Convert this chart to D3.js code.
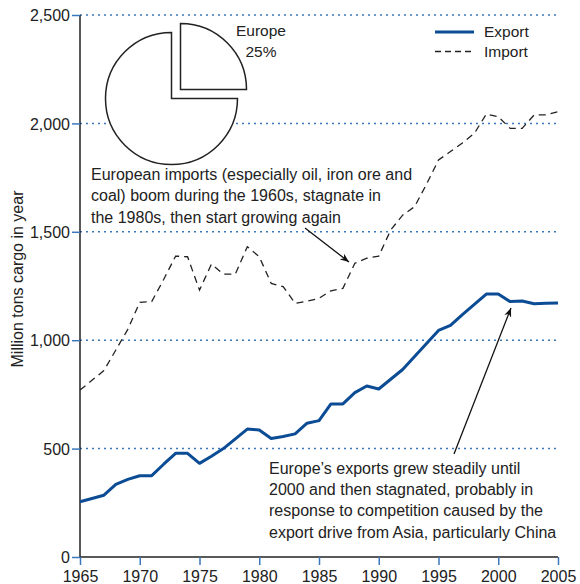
<!DOCTYPE html>
<html>
<head>
<meta charset="utf-8">
<script src="https://cdn.jsdelivr.net/npm/d3@7"></script>
<style>
  body { margin: 0; background: #fff; }
  svg { font-family: "Liberation Sans", Arial, Helvetica, sans-serif; }
</style>
</head>
<body>
<svg id="chart" width="580" height="584"></svg>
<script>
const years = d3.range(1965, 2006);
const exportValues = [255, 270, 285, 335, 358, 375, 375, 428, 478, 478,
  432, 465, 500, 545, 590, 586, 547, 556, 568, 617,
  629, 706, 706, 758, 789, 775, 820, 865, 925, 985,
  1045, 1068, 1118, 1165, 1213, 1213, 1178, 1181, 1168, 1170, 1172];
const importValues = [770, 815, 860, 955, 1050, 1175, 1178, 1280, 1388, 1385,
  1231, 1351, 1305, 1305, 1431, 1385, 1262, 1247, 1170, 1180,
  1193, 1228, 1239, 1355, 1378, 1388, 1508, 1577, 1616, 1720,
  1831, 1870, 1910, 1954, 2043, 2031, 1977, 1977, 2039, 2039, 2054];
const yTicks = [0, 500, 1000, 1500, 2000, 2500];
const xTicks = [1965, 1970, 1975, 1980, 1985, 1990, 1995, 2000, 2005];
const pieShares = [{name: "Europe", value: 25}, {name: "Rest", value: 75}];
const seriesNames = ["Export", "Import"];
const yTitle = "Million tons cargo in year";
const importNote = ["European imports (especially oil, iron ore and",
  "coal) boom during the 1960s, stagnate in",
  "the 1980s, then start growing again"];
const exportNote = ["Europe\u2019s exports grew steadily until",
  "2000 and then stagnated, probably in",
  "response to competition caused by the",
  "export drive from Asia, particularly China"];

const svg = d3.select("#chart");
const blue = "#0b4c95";
const gridBlue = "#3b78bb";
const FS = 16;
const x = d3.scaleLinear().domain([1965, 2005]).range([80, 558]);
const y = d3.scaleLinear().domain([0, 2500]).range([557, 15]);

// defs arrow
svg.append("defs").append("marker")
  .attr("id", "arr").attr("viewBox", "0 0 10 10").attr("refX", 10).attr("refY", 5)
  .attr("markerWidth", 9).attr("markerHeight", 9).attr("markerUnits", "userSpaceOnUse")
  .attr("orient", "auto")
  .append("path").attr("d", "M0,1 L10,5 L0,9 L3,5 Z").attr("fill", "#111");

// grid
svg.append("g").selectAll("line").data(yTicks.filter(d => d > 0)).join("line")
  .attr("x1", 80).attr("x2", 558).attr("y1", d => y(d)).attr("y2", d => y(d))
  .attr("stroke", gridBlue).attr("stroke-width", 1.5).attr("stroke-dasharray", "2,4");

// axes
const fmt = d3.format(",");
const yAxis = svg.append("g").attr("transform", "translate(80,0)")
  .call(d3.axisLeft(y).tickValues(yTicks).tickFormat(fmt).tickSize(8).tickPadding(2));
yAxis.select(".domain").attr("stroke", "#222").attr("stroke-width", 1.5).attr("d", "M0,557V15");
yAxis.selectAll(".tick line").attr("stroke", gridBlue).attr("stroke-width", 1.5);
yAxis.selectAll("text").attr("font-size", FS).attr("fill", "#222").attr("dy", "0.35em");

const xAxis = svg.append("g").attr("transform", "translate(0,557)")
  .call(d3.axisBottom(x).tickValues(xTicks).tickFormat(d3.format("d")).tickSize(8).tickPadding(6));
xAxis.select(".domain").attr("stroke", "#222").attr("stroke-width", 1.5).attr("d", "M80,0H558");
xAxis.selectAll(".tick line").attr("stroke", gridBlue).attr("stroke-width", 1.5);
xAxis.selectAll("text").attr("font-size", FS).attr("fill", "#222");

svg.append("text").attr("transform", "translate(23,279) rotate(-90)")
  .attr("text-anchor", "middle").attr("font-size", FS).attr("fill", "#222").text(yTitle);

// lines
const line = d3.line().x((d, i) => x(years[i])).y(d => y(d));
svg.append("path").datum(importValues).attr("d", line).attr("fill", "none")
  .attr("stroke", "#222").attr("stroke-width", 1.3).attr("stroke-dasharray", "7,5");
svg.append("path").datum(exportValues).attr("d", line).attr("fill", "none")
  .attr("stroke", blue).attr("stroke-width", 3).attr("stroke-linejoin", "round");

// pie
const pie = d3.pie().sort(null).value(d => d.value);
const arcs = pie(pieShares);
const arc = d3.arc().innerRadius(0).outerRadius(66);
const pg = svg.append("g").attr("transform", "translate(171.5,98.5)");
pg.selectAll("path").data(arcs).join("path")
  .attr("d", arc)
  .attr("transform", (d, i) => i === 0 ? "translate(9,-9)" : null)
  .attr("fill", "#fff").attr("stroke", "#222").attr("stroke-width", 1.5);
svg.append("text").attr("x", 261).attr("y", 36).attr("text-anchor", "middle")
  .attr("font-size", 15.5).attr("fill", "#222").text(pieShares[0].name);
svg.append("text").attr("x", 261).attr("y", 57).attr("text-anchor", "middle")
  .attr("font-size", 15.5).attr("fill", "#222").text(pieShares[0].value + "%");

// legend
const lg = svg.append("g");
lg.append("line").attr("x1", 435).attr("x2", 474).attr("y1", 32).attr("y2", 32)
  .attr("stroke", blue).attr("stroke-width", 3);
lg.append("line").attr("x1", 435).attr("x2", 474).attr("y1", 51.5).attr("y2", 51.5)
  .attr("stroke", "#222").attr("stroke-width", 1.3).attr("stroke-dasharray", "6,4");
lg.append("text").attr("x", 484).attr("y", 37).attr("font-size", 15.5).attr("fill", "#222").text(seriesNames[0]);
lg.append("text").attr("x", 484).attr("y", 57).attr("font-size", 15.5).attr("fill", "#222").text(seriesNames[1]);

// annotations
svg.append("text").attr("font-size", FS).attr("fill", "#222")
  .selectAll("tspan").data(importNote).join("tspan")
  .attr("x", 91).attr("y", (d, i) => 179.5 + i * 21.6).text(d => d);
svg.append("text").attr("font-size", FS).attr("fill", "#222")
  .selectAll("tspan").data(exportNote).join("tspan")
  .attr("x", 269).attr("y", (d, i) => 473.5 + i * 21.4).text(d => d);

svg.append("line").attr("x1", 305).attr("y1", 228).attr("x2", 349).attr("y2", 262)
  .attr("stroke", "#111").attr("stroke-width", 1.3).attr("marker-end", "url(#arr)");
svg.append("line").attr("x1", 454).attr("y1", 454).attr("x2", 511).attr("y2", 308)
  .attr("stroke", "#111").attr("stroke-width", 1.3).attr("marker-end", "url(#arr)");
</script>
</body>
</html>
